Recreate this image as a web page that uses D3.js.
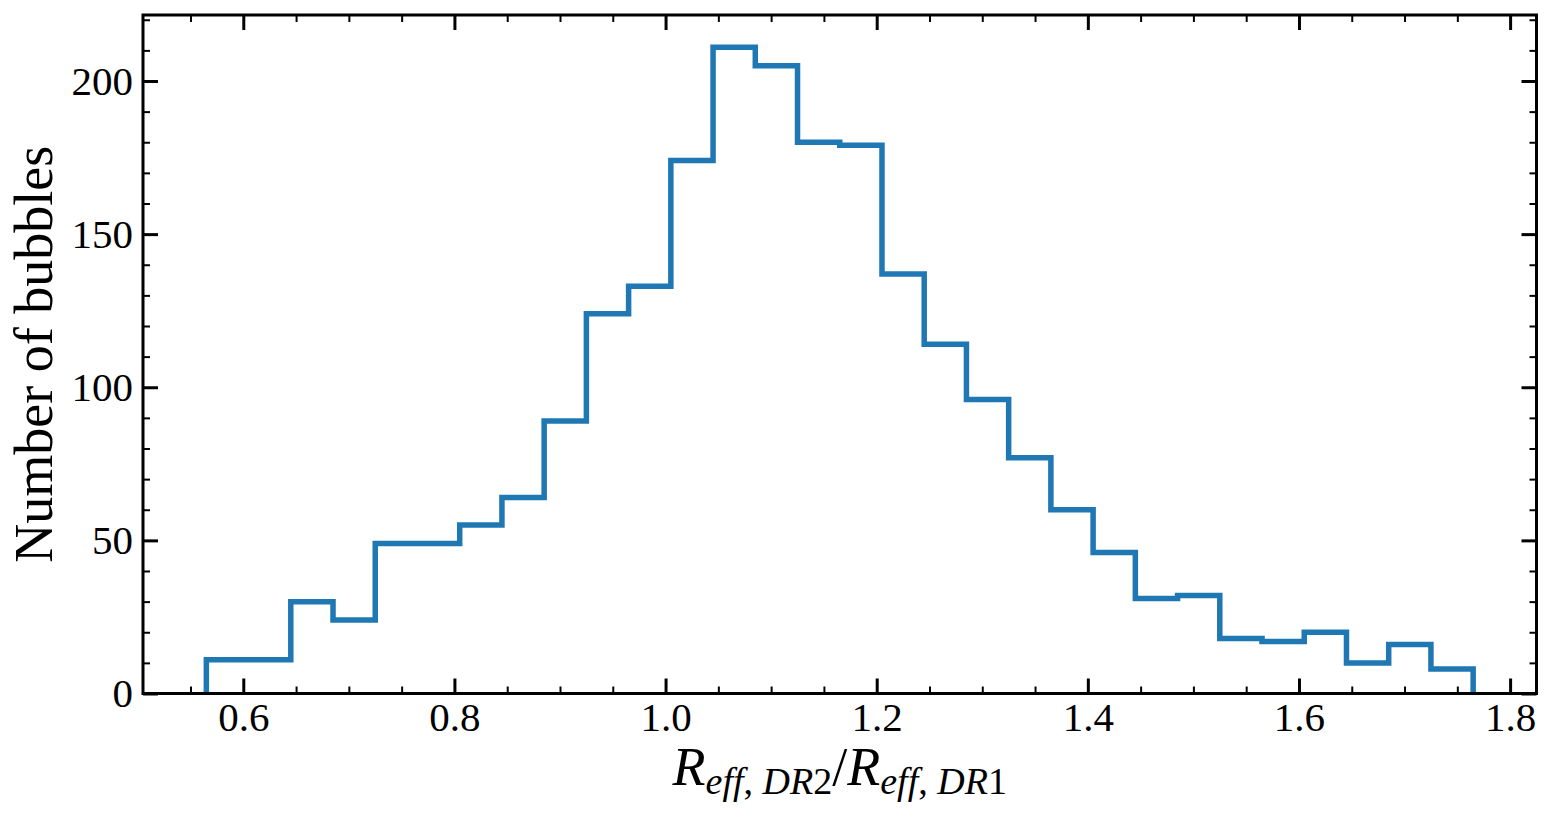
<!DOCTYPE html>
<html>
<head>
<meta charset="utf-8">
<script src="https://cdn.jsdelivr.net/npm/d3@7"></script>
<style>
  body { margin: 0; background: #fff; }
  svg { display: block; }
  .tick text { font-family: "Liberation Serif", "Times New Roman", serif; }
</style>
</head>
<body>
<svg id="chart" width="1552" height="817"></svg>
<script>
// histogram: 30 bins of width 0.04 starting at 0.565
const binStart = 0.565;
const binWidth = 0.04;
const counts = [11, 11, 30, 24, 49, 49, 55, 64, 89, 124,
                133, 174, 211, 205, 180, 179, 137, 114, 96, 77,
                60, 46, 31, 32, 18, 17, 20, 10, 16, 8];
const xTicks = [0.6, 0.8, 1.0, 1.2, 1.4, 1.6, 1.8];
const yTicks = [0, 50, 100, 150, 200];

const width = 1552, height = 817;
const margin = {top: 15, right: 15.5, bottom: 123.5, left: 143};
const plotW = width - margin.left - margin.right;
const plotH = height - margin.top - margin.bottom;

const svg = d3.select('#chart');
const g = svg.append('g')
    .attr('transform', 'translate(' + margin.left + ',' + margin.top + ')');

let edges = counts.map((c, i) => binStart + i * binWidth);
edges.push(binStart + counts.length * binWidth);

let xmin = edges[0], xmax = edges[edges.length - 1];
let pad = (xmax - xmin) * 0.05;
const x = d3.scaleLinear().domain([xmin - pad, xmax + pad]).range([0, plotW]);
const y = d3.scaleLinear().domain([0, d3.max(counts) * 1.05]).range([plotH, 0]);

// minor tick positions
let xMinor = d3.range(0.55, 1.8251, 0.05).filter(v => xTicks.every(t => Math.abs(t - v) > 1e-6));
let yMinor = d3.range(0, 221, 10).filter(v => v % 50 !== 0);

function styleAxis(sel, w) {
    sel.select('.domain').remove();
    sel.selectAll('.tick line').attr('stroke', '#000').attr('stroke-width', w);
}

// major ticks with labels
g.append('g')
    .attr('transform', 'translate(0,' + plotH + ')')
    .call(d3.axisBottom(x).tickValues(xTicks).tickFormat(d3.format('.1f'))
        .tickSizeInner(-15).tickSizeOuter(0).tickPadding(8))
    .call(sel => styleAxis(sel, 3))
    .selectAll('text').attr('font-size', 41).attr('fill', '#000');

g.append('g')
    .call(d3.axisLeft(y).tickValues(yTicks).tickFormat(d3.format('d'))
        .tickSizeInner(-15).tickSizeOuter(0).tickPadding(10))
    .call(sel => styleAxis(sel, 3))
    .selectAll('text').attr('font-size', 41).attr('fill', '#000');

// mirrored major ticks (top and right)
g.append('g')
    .call(d3.axisTop(x).tickValues(xTicks).tickFormat('').tickSizeInner(-15).tickSizeOuter(0))
    .call(sel => styleAxis(sel, 3));
g.append('g')
    .attr('transform', 'translate(' + plotW + ',0)')
    .call(d3.axisRight(y).tickValues(yTicks).tickFormat('').tickSizeInner(-15).tickSizeOuter(0))
    .call(sel => styleAxis(sel, 3));

// minor ticks on all four sides
g.append('g')
    .attr('transform', 'translate(0,' + plotH + ')')
    .call(d3.axisBottom(x).tickValues(xMinor).tickFormat('').tickSizeInner(-7).tickSizeOuter(0))
    .call(sel => styleAxis(sel, 2));
g.append('g')
    .call(d3.axisTop(x).tickValues(xMinor).tickFormat('').tickSizeInner(-7).tickSizeOuter(0))
    .call(sel => styleAxis(sel, 2));
g.append('g')
    .call(d3.axisLeft(y).tickValues(yMinor).tickFormat('').tickSizeInner(-7).tickSizeOuter(0))
    .call(sel => styleAxis(sel, 2));
g.append('g')
    .attr('transform', 'translate(' + plotW + ',0)')
    .call(d3.axisRight(y).tickValues(yMinor).tickFormat('').tickSizeInner(-7).tickSizeOuter(0))
    .call(sel => styleAxis(sel, 2));

// step outline
let pts = [[edges[0], 0]];
counts.forEach((c, i) => {
    pts.push([edges[i], c]);
    pts.push([edges[i + 1], c]);
});
pts.push([edges[edges.length - 1], 0]);

g.append('path')
    .datum(pts)
    .attr('fill', 'none')
    .attr('stroke', '#1f77b4')
    .attr('stroke-width', 5.5)
    .attr('stroke-linejoin', 'miter')
    .attr('d', d3.line().x(d => x(d[0])).y(d => y(d[1])));

// frame
g.append('rect')
    .attr('width', plotW).attr('height', plotH)
    .attr('fill', 'none').attr('stroke', '#000').attr('stroke-width', 3);

// axis labels
svg.append('text')
    .attr('transform', 'translate(52,' + (margin.top + plotH / 2) + ') rotate(-90)')
    .attr('text-anchor', 'middle')
    .attr('font-family', '"Liberation Serif", "Times New Roman", serif')
    .attr('font-size', 54)
    .attr('fill', '#000')
    .text('Number of bubbles');

let xl = svg.append('text')
    .attr('x', margin.left + plotW / 2)
    .attr('y', 785)
    .attr('text-anchor', 'middle')
    .attr('font-family', '"Liberation Serif", "Times New Roman", serif')
    .attr('font-size', 54)
    .attr('fill', '#000');
function part(txt, italic, sub) {
    let t = xl.append('tspan').text(txt);
    if (italic) t.attr('font-style', 'italic');
    if (sub) t.attr('font-size', 38);
    return t;
}
part('R', true, false);
part('eff', true, true).attr('dy', 9);
part(', ', false, true);
part('DR', true, true);
part('2', false, true);
part('/', false, false).attr('dy', -9);
part('R', true, false);
part('eff', true, true).attr('dy', 9);
part(', ', false, true);
part('DR', true, true);
part('1', false, true);
</script>
</body>
</html>
